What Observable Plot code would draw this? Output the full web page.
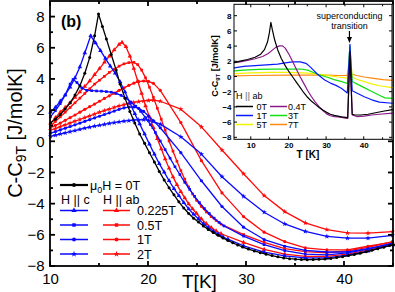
<!DOCTYPE html>
<html><head><meta charset="utf-8">
<script src="https://cdn.jsdelivr.net/npm/d3@7"></script>
<script src="https://cdn.jsdelivr.net/npm/@observablehq/plot@0.6"></script>
<style>
body{margin:0;background:#fff;}
#wrap{position:relative;width:395px;height:292px;overflow:hidden;background:#fff;}
#inset{position:absolute;left:205px;top:0;}
svg{font-family:"Liberation Sans",Arial,sans-serif;}
</style></head><body><div id="wrap"><div id="main"></div><div id="inset"></div></div>
<script>
// ---------- main chart data: [T (K), C - C9T (J/molK)] ----------
const black0T = [[10,1.2],[10.5,1.45],[11,1.75],[11.5,2.1],[12,2.5],[12.5,3.0],[13,3.6],[13.5,4.4],[14,5.4],[14.5,6.8],[14.9,8.2],[15.3,7.4],[15.7,6.6],[16.2,5.6],[16.7,4.6],[17.1,3.7],[17.6,2.8],[18.1,1.95],[18.6,1.2],[19.1,0.5],[19.6,-0.1],[20.1,-0.7],[20.6,-1.3],[21.1,-1.9],[21.6,-2.45],[22.1,-2.95],[22.6,-3.4],[23.1,-3.85],[23.6,-4.25],[24.1,-4.6],[24.6,-4.9],[25.1,-5.15],[25.6,-5.4],[26.1,-5.62],[26.6,-5.82],[27.1,-6.0],[27.6,-6.17],[28.1,-6.33],[28.6,-6.48],[29.1,-6.62],[29.6,-6.75],[30.2,-6.88],[30.8,-7.0],[31.4,-7.11],[32,-7.21],[32.6,-7.3],[33.2,-7.38],[33.8,-7.45],[34.4,-7.5],[35,-7.53],[35.6,-7.55],[36.2,-7.56],[36.8,-7.55],[37.4,-7.54],[38,-7.52],[38.6,-7.48],[39.2,-7.43],[39.8,-7.37],[40.4,-7.3],[41,-7.23],[41.6,-7.15],[42.2,-7.06],[42.8,-6.96],[43.4,-6.86],[44,-6.76],[44.6,-6.66],[45,-6.6]];
const blueC0225 = [[10,1.9],[10.5,2.2],[11,2.6],[11.5,3.0],[12,3.5],[12.5,4.1],[13,4.8],[13.5,5.7],[14.1,6.8],[14.6,6.35],[15.1,5.85],[15.6,5.35],[16.1,4.85],[16.6,4.4],[17.1,3.85],[17.6,3.2],[18.1,2.5],[18.6,1.8],[19.1,1.15],[19.6,0.5],[20.1,-0.15],[20.6,-0.8],[21.1,-1.4],[21.6,-1.95],[22.1,-2.5],[22.6,-3.0],[23.1,-3.45],[23.6,-3.9],[24.1,-4.3],[24.6,-4.65],[25.1,-4.95],[25.6,-5.25],[26.1,-5.5],[26.6,-5.72],[27.1,-5.92],[27.6,-6.1],[28.1,-6.25],[29.7,-6.68],[31.8,-7.08],[33.9,-7.32],[36,-7.45],[38.2,-7.45],[40.3,-7.27],[42.4,-7.02],[44.9,-6.62]];
const blueC05 = [[10,1.6],[10.5,2.0],[11,2.45],[11.5,3.0],[12,3.7],[12.3,4.0],[12.7,3.8],[13.2,3.45],[13.7,3.3],[14.2,3.28],[14.7,3.26],[15.2,3.25],[15.7,3.22],[16.2,3.18],[16.7,3.1],[17.2,2.98],[17.7,2.8],[18.2,2.55],[18.7,2.28],[19.2,1.95],[19.7,1.55],[20.2,1.1],[20.7,0.6],[21.2,0.05],[21.7,-0.5],[22.2,-1.05],[22.7,-1.6],[23.2,-2.1],[23.7,-2.6],[24.2,-3.05],[24.7,-3.5],[25.2,-3.9],[25.7,-4.28],[26.2,-4.6],[26.7,-4.9],[27.2,-5.17],[27.7,-5.4],[29.7,-6.05],[31.8,-6.6],[33.9,-6.98],[36,-7.2],[38.2,-7.25],[40.3,-7.12],[42.4,-6.88],[44.9,-6.5]];
const blueC1 = [[10,0.55],[10.5,0.65],[11,0.76],[11.5,0.87],[12,0.98],[12.5,1.09],[13,1.2],[13.5,1.31],[14,1.42],[14.5,1.53],[15,1.64],[15.5,1.75],[16,1.86],[16.5,1.97],[17,2.08],[17.5,2.17],[18,2.23],[18.5,2.24],[19,2.15],[19.5,1.95],[20,1.65],[20.5,1.35],[21.2,0.9],[23.3,-0.7],[25.4,-2.5],[27.5,-4.15],[29.7,-5.48],[31.8,-6.27],[33.9,-6.7],[36,-6.97],[38.2,-7.07],[40.3,-7.07],[42.4,-6.86],[44.9,-6.54]];
const blueC2 = [[10,0.35],[10.5,0.42],[11,0.5],[11.5,0.57],[12,0.65],[12.5,0.72],[13,0.8],[13.5,0.87],[14,0.94],[14.5,1.0],[15,1.06],[15.5,1.12],[16,1.18],[16.5,1.23],[17,1.28],[17.5,1.32],[18,1.36],[18.5,1.39],[19,1.41],[19.5,1.42],[20,1.38],[20.5,1.3],[21.2,1.13],[23.3,0.32],[25.4,-0.79],[27.5,-2.24],[29.7,-3.5],[31.8,-4.52],[33.9,-5.27],[36,-5.75],[38.2,-6.07],[40.3,-6.18],[42.4,-6.18],[44.9,-6.0]];
const redAB0225 = [[10,1.2],[10.5,1.55],[11,1.9],[11.5,2.2],[12,2.5],[12.5,2.85],[13,3.2],[13.5,3.55],[14,3.9],[14.5,4.3],[15,4.7],[15.5,5.1],[16,5.5],[16.5,5.9],[17,6.25],[17.3,6.38],[17.7,6.1],[18.1,5.5],[18.5,4.7],[18.9,3.9],[19.3,3.1],[19.7,2.3],[20.1,1.6],[20.5,0.9],[20.9,0.2],[21.3,-0.45],[21.7,-1.1],[22.1,-1.7],[22.5,-2.25],[22.9,-2.75],[23.3,-3.2],[23.7,-3.6],[24.1,-3.98],[24.5,-4.3],[24.9,-4.6],[25.4,-4.95],[25.9,-5.25],[26.4,-5.5],[26.9,-5.72],[27.4,-5.9],[29.7,-6.45],[31.8,-6.9],[33.9,-7.2],[36,-7.35],[38.2,-7.35],[40.3,-7.2],[42.4,-6.95],[44.9,-6.55]];
const redAB05 = [[10,1.0],[10.5,1.3],[11,1.6],[11.5,1.9],[12,2.2],[12.5,2.5],[13,2.8],[13.5,3.1],[14,3.4],[14.5,3.7],[15,3.95],[15.5,4.2],[16,4.45],[16.5,4.65],[17,4.85],[17.5,5.0],[18,5.08],[18.5,5.1],[18.9,4.95],[19.3,4.6],[19.7,4.1],[20.1,3.5],[20.5,2.85],[20.9,2.15],[21.3,1.45],[21.7,0.75],[22.1,0.05],[22.5,-0.6],[22.9,-1.25],[23.3,-1.85],[23.7,-2.4],[24.1,-2.9],[24.5,-3.35],[24.9,-3.75],[25.4,-4.15],[25.9,-4.5],[26.4,-4.8],[26.9,-5.05],[27.4,-5.28],[29.7,-5.95],[31.8,-6.45],[33.9,-6.85],[36,-7.05],[38.2,-7.12],[40.3,-7.0],[42.4,-6.78],[44.9,-6.4]];
const redAB1 = [[10,0.9],[10.5,1.05],[11,1.2],[11.5,1.38],[12,1.55],[12.5,1.72],[13,1.9],[13.5,2.08],[14,2.25],[14.5,2.42],[15,2.6],[15.5,2.78],[16,2.95],[16.5,3.12],[17,3.3],[17.5,3.46],[18,3.62],[18.5,3.76],[19,3.86],[19.5,3.9],[20,3.88],[20.5,3.75],[21.2,3.3],[23.3,1.23],[25.4,-1.21],[27.5,-3.28],[29.7,-4.8],[31.8,-5.8],[33.9,-6.4],[36,-6.8],[38.2,-6.93],[40.3,-6.93],[42.4,-6.7],[44.9,-6.44]];
const redAB2 = [[10,0.75],[10.5,0.85],[11,0.97],[11.5,1.08],[12,1.2],[12.5,1.32],[13,1.43],[13.5,1.55],[14,1.66],[14.5,1.78],[15,1.9],[15.5,2.0],[16,2.1],[16.5,2.2],[17,2.3],[17.5,2.38],[18,2.46],[18.5,2.53],[19,2.58],[19.5,2.62],[20,2.65],[20.5,2.67],[21.2,2.6],[23.3,2.09],[25.4,0.96],[27.5,-0.53],[29.7,-2.05],[31.8,-3.45],[33.9,-4.48],[36,-5.2],[38.2,-5.63],[40.3,-5.84],[42.4,-5.86],[44.9,-5.76]];

const fieldLabels = ["0.225T","0.5T","1T","2T"];
const xTicks = [10,20,30,40];
const yTicks = [-8,-6,-4,-2,0,2,4,6,8];

// ---------- inset data (H || ab) ----------
const in0T = [[5.5,1.9],[7,2.1],[9,2.3],[11,2.6],[12.5,3.0],[13.5,3.6],[14.3,4.6],[14.8,5.8],[15.2,7.2],[15.6,6.2],[16.2,4.9],[17,3.6],[18,2.4],[19,1.5],[20,0.7],[21,0],[22,-0.7],[23,-1.4],[24,-2.1],[25,-2.7],[26,-3.2],[27,-3.6],[28,-4.0],[29,-4.35],[30,-4.65],[31,-4.9],[32,-5.05],[33,-5.15],[34,-5.25],[35,-5.3],[35.6,-5.35],[36.2,3.3],[36.8,-4.9],[37.5,-5.0],[39,-5.0],[41,-4.9],[43,-4.7],[45,-4.5],[47.5,-4.3]];
const in04T = [[5.5,1.9],[7,2.0],[9,2.2],[11,2.4],[13,2.7],[14.5,3.1],[15.5,3.5],[16.5,3.9],[17.5,4.1],[18.3,4.1],[19,3.8],[20,3.0],[21,2.0],[22,1.0],[23,0],[24,-0.9],[25,-1.8],[26,-2.6],[27,-3.3],[28,-3.9],[29,-4.4],[30,-4.85],[31,-5.1],[32,-5.2],[33,-5.25],[34,-5.3],[35,-5.4],[35.6,-5.45],[36.2,3.0],[36.8,-5.0],[38,-5.2],[40,-5.15],[42,-5.0],[44,-4.9],[47.5,-4.75]];
const in1T = [[5.5,1.2],[8,1.4],[11,1.5],[14,1.6],[17,1.7],[19,1.85],[21,2.0],[23,2.0],[24.5,1.8],[25.5,1.4],[26.5,0.9],[27.5,0.4],[28.5,0],[29.5,-0.4],[31,-0.8],[32.5,-1.1],[34,-1.5],[35.5,-2.1],[36.2,4.3],[36.8,-1.8],[38,-2.1],[40,-2.6],[42,-3.0],[44,-3.3],[47.5,-3.45]];
const in3T = [[5.5,0.8],[8,0.9],[12,1.0],[16,1.05],[20,1.05],[23,1.05],[25,0.9],[26.5,0.6],[28,0.3],[30,0],[32,-0.35],[34,-0.6],[35.5,-0.85],[36.2,4.1],[36.8,-0.6],[38,-0.9],[40,-1.4],[42,-1.9],[44,-2.4],[45.5,-2.75],[47.5,-2.8]];
const in5T = [[5.5,0.45],[10,0.55],[15,0.6],[20,0.6],[25,0.5],[28,0.35],[31,0.15],[33,0],[35.5,-0.15],[36.2,3.4],[36.8,0],[38,-0.3],[40,-0.6],[42,-0.9],[44,-1.15],[47.5,-1.4]];
const in7T = [[5.5,0.15],[10,0.2],[20,0.25],[30,0.25],[33,0.2],[35.4,0.2],[35.9,1.1],[36.5,0.4],[38,0.2],[40,0.0],[42,-0.15],[45,-0.35],[47.5,-0.45]];
const insetLabels = ["0T","0.4T","1T","3T","5T","7T"];
const insetXTicks = [10,20,30,40];
const insetYTicks = [-8,-6,-4,-2,0,2,4,6,8];

const BLUE = "#0a0aff", RED = "#ff0a0a";
const F = '"Liberation Sans", Arial, sans-serif';

function series(arr, color, symbol, r) {
  return [
    Plot.line(arr, {x: d => d[0], y: d => d[1], stroke: color, strokeWidth: 1.3}),
    Plot.dot(arr, {x: d => d[0], y: d => d[1], symbol, fill: color, r})
  ];
}

const main = Plot.plot({
  width: 395, height: 292,
  marginLeft: 50, marginRight: 2, marginTop: 1, marginBottom: 26,
  style: {fontFamily: F, fontSize: "15px", color: "black", background: "transparent"},
  x: {domain: [10, 45], ticks: xTicks, tickSize: 0, tickPadding: 7, label: null},
  y: {domain: [-8, 9], ticks: yTicks, tickSize: 0, tickPadding: 6, label: null},
  marks: [
    ...series(redAB2, RED, "star", 1.7),
    ...series(redAB1, RED, "circle", 1.6),
    ...series(redAB05, RED, "square", 1.5),
    ...series(redAB0225, RED, "triangle", 1.7),
    ...series(blueC2, BLUE, "star", 1.7),
    ...series(blueC1, BLUE, "circle", 1.6),
    ...series(blueC05, BLUE, "square", 1.5),
    ...series(blueC0225, BLUE, "triangle", 1.7),
    ...series(black0T, "black", "circle", 1.5)
  ]
});
document.getElementById("main").appendChild(main);

function inwardTicks(svg, sx, sy, xMaj, xMin, yMaj, yMin, lMaj, lMin, sw) {
  const [xa, xb] = sx.range, [ya, yb] = sy.range; // ya bottom, yb top
  const g = svg.append("g").attr("stroke", "black").attr("stroke-width", sw);
  const tx = (v, l) => {
    const x = sx.apply(v);
    g.append("line").attr("x1", x).attr("x2", x).attr("y1", ya).attr("y2", ya - l);
    g.append("line").attr("x1", x).attr("x2", x).attr("y1", yb).attr("y2", yb + l);
  };
  const ty = (v, l) => {
    const y = sy.apply(v);
    g.append("line").attr("y1", y).attr("y2", y).attr("x1", xa).attr("x2", xa + l);
    g.append("line").attr("y1", y).attr("y2", y).attr("x1", xb).attr("x2", xb - l);
  };
  xMaj.forEach(v => tx(v, lMaj)); xMin.forEach(v => tx(v, lMin));
  yMaj.forEach(v => ty(v, lMaj)); yMin.forEach(v => ty(v, lMin));
  g.append("rect").attr("x", xa).attr("y", yb).attr("width", xb - xa).attr("height", ya - yb)
    .attr("fill", "none");
}

{
  const svg = d3.select(main);
  const sx = main.scale("x"), sy = main.scale("y");
  inwardTicks(svg, sx, sy, xTicks, [15,25,35,45], yTicks, [-7,-5,-3,-1,1,3,5,7], 5, 3, 1.8);
  const L = svg.append("g").attr("text-anchor", "start").attr("fill", "black");

  // axis titles
  const yl = L.append("text").attr("transform", "translate(22,133) rotate(-90)")
    .attr("text-anchor", "middle").attr("font-size", 20);
  yl.append("tspan").text("C-C");
  yl.append("tspan").attr("font-size", 14).attr("dy", 4).text("9T");
  yl.append("tspan").attr("dy", -4).text(" [J/molK]");
  L.append("text").attr("x", 182).attr("y", 288).attr("font-size", 19).text("T[K]");
  L.append("text").attr("x", 61).attr("y", 27).attr("font-size", 16).attr("font-weight", "bold").text("(b)");

  // legend
  const FS = 12.5;
  const sym = {triangle: d3.symbolTriangle, square: d3.symbolSquare, circle: d3.symbolCircle, star: d3.symbolStar};
  const entry = (x1, x2, y, color, s, size, w) => {
    L.append("line").attr("x1", x1).attr("x2", x2).attr("y1", y).attr("y2", y)
      .attr("stroke", color).attr("stroke-width", w);
    L.append("path").attr("d", d3.symbol(sym[s], size)()).attr("fill", color)
      .attr("transform", `translate(${(x1 + x2) / 2},${y})`);
  };
  entry(60, 88, 185, "black", "circle", 12, 2.2);
  const t0 = L.append("text").attr("x", 90).attr("y", 189.5).attr("font-size", FS);
  t0.append("tspan").text("μ");
  t0.append("tspan").attr("font-size", 9).attr("dy", 3).text("0");
  t0.append("tspan").attr("dy", -3).text("H = 0T");
  L.append("text").attr("x", 61).attr("y", 204).attr("font-size", FS).text("H || c");
  L.append("text").attr("x", 103).attr("y", 204).attr("font-size", FS).text("H || ab");
  const syms = ["triangle", "square", "circle", "star"];
  [210.5, 225, 239.5, 254].forEach((y, i) => {
    entry(60, 88, y, BLUE, syms[i], 12, 1.5);
    entry(103, 130, y, RED, syms[i], 12, 1.5);
    L.append("text").attr("x", 137).attr("y", y + 4.5).attr("font-size", FS).text(fieldLabels[i]);
  });
}

// ---------- inset ----------
const INC = {k: "black", p: "#8a1a8a", b: "#0a1aff", g: "#10e010", y: "#f2f200", o: "#ff8a10"};
const inLine = (arr, c) => Plot.line(arr, {x: d => d[0], y: d => d[1], stroke: c, strokeWidth: 1.2});
const inset = Plot.plot({
  width: 190, height: 165,
  marginLeft: 29, marginRight: 3, marginTop: 4.3, marginBottom: 25.7,
  style: {fontFamily: F, fontSize: "8px", fontWeight: "bold", color: "black", background: "transparent", overflow: "visible"},
  x: {domain: [5.54, 47.5], ticks: insetXTicks, tickSize: 0, tickPadding: 3, label: null},
  y: {domain: [-8.26, 9.5], ticks: insetYTicks, tickSize: 0, tickPadding: 3, label: null},
  marks: [
    Plot.frame({fill: "white"}),
    inLine(in7T, INC.o), inLine(in5T, INC.y), inLine(in3T, INC.g),
    inLine(in1T, INC.b), inLine(in04T, INC.p), inLine(in0T, INC.k)
  ]
});
document.getElementById("inset").appendChild(inset);
{
  const svg = d3.select(inset);
  const sx = inset.scale("x"), sy = inset.scale("y");
  inwardTicks(svg, sx, sy, insetXTicks, [15,25,35,45], insetYTicks, [], 3, 2, 1);
  const L = svg.append("g").attr("text-anchor", "start").attr("fill", "black").attr("font-weight", "normal");
  const yl = L.append("text").attr("transform", "translate(13,66) rotate(-90)")
    .attr("text-anchor", "middle").attr("font-size", 9).attr("font-weight", "bold");
  yl.append("tspan").text("C-C");
  yl.append("tspan").attr("font-size", 6).attr("dy", 2).text("9T");
  yl.append("tspan").attr("dy", -2).text(" [J/molK]");
  L.append("text").attr("x", 103).attr("y", 158).attr("text-anchor", "middle")
    .attr("font-size", 10).attr("font-weight", "bold").text("T [K]");
  // annotation
  const ax = sx.apply(36.2);
  L.append("text").attr("x", ax).attr("y", 19).attr("text-anchor", "middle").attr("font-size", 9).text("superconducting");
  L.append("text").attr("x", ax).attr("y", 28.5).attr("text-anchor", "middle").attr("font-size", 9).text("transition");
  L.append("line").attr("x1", ax).attr("x2", ax).attr("y1", 31).attr("y2", 39).attr("stroke", "black").attr("stroke-width", 1.2);
  L.append("path").attr("d", `M${ax - 2.5},37 L${ax + 2.5},37 L${ax},43 Z`).attr("fill", "black");
  // legend
  const h = L.append("text").attr("x", 31).attr("y", 99).attr("font-size", 9);
  h.append("tspan").text("H ");
  h.append("tspan").attr("fill", "#999").attr("font-weight", "bold").text("||");
  h.append("tspan").text(" ab");
  const cols = [INC.k, INC.p, INC.b, INC.g, INC.y, INC.o];
  [106.5, 115.5, 124.5].forEach((y, r) => {
    [0, 1].forEach(c => {
      const i = r * 2 + c;
      const x1 = c === 0 ? 31 : 65;
      L.append("line").attr("x1", x1).attr("x2", x1 + 17).attr("y1", y).attr("y2", y)
        .attr("stroke", cols[i]).attr("stroke-width", 1.5);
      L.append("text").attr("x", c === 0 ? 62 : 83).attr("y", y + 3.2)
        .attr("text-anchor", c === 0 ? "end" : "start").attr("font-size", 9).text(insetLabels[i]);
    });
  });
}
</script></body></html>
